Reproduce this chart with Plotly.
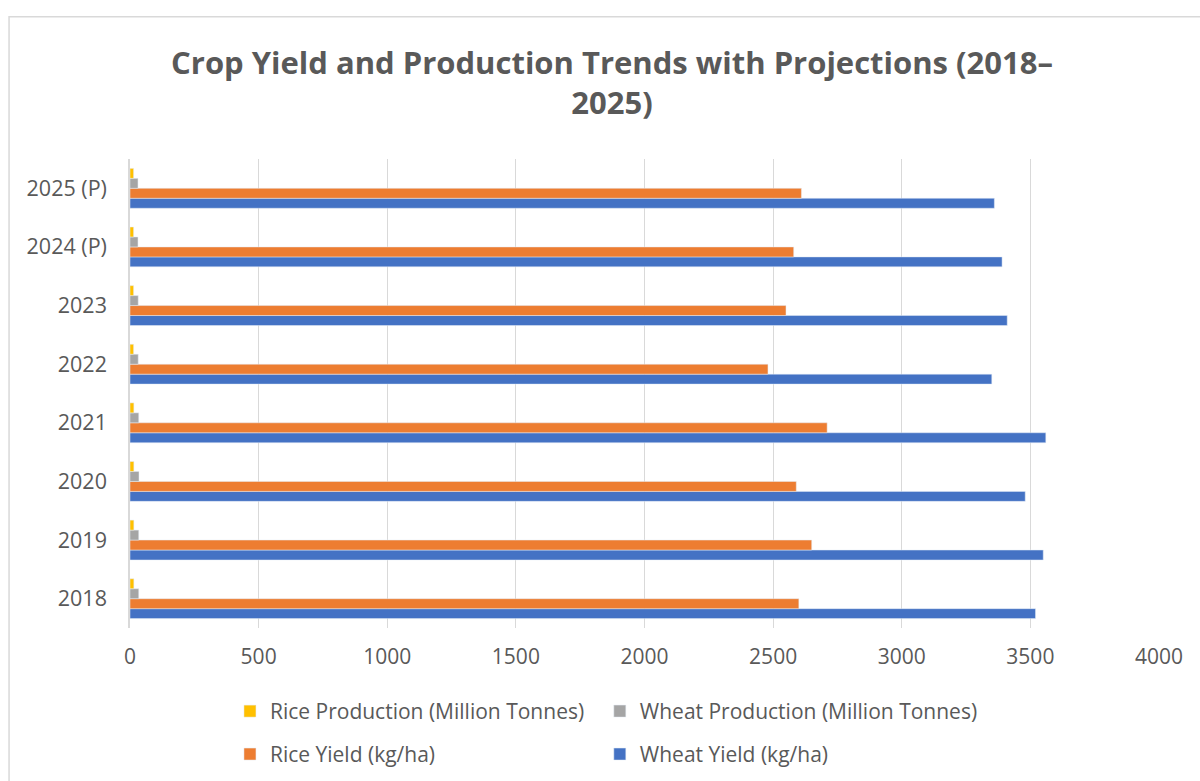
import plotly.graph_objects as go

years = ["2018", "2019", "2020", "2021", "2022", "2023", "2024 (P)", "2025 (P)"]
wheat_yield = [3520, 3550, 3480, 3560, 3350, 3410, 3390, 3360]
rice_yield = [2600, 2650, 2590, 2710, 2480, 2550, 2580, 2610]
wheat_prod = [34, 34, 35, 34, 32, 32, 31, 31]
rice_prod = [15, 15, 15, 15, 14, 14, 14, 14]
x_ticks = [0, 500, 1000, 1500, 2000, 2500, 3000, 3500, 4000]

FONT = "Open Sans"
TXT = "#595959"

fig = go.Figure()
fig.add_trace(go.Bar(y=years, x=wheat_yield, orientation="h", name="Wheat Yield (kg/ha)",
                     marker=dict(color="#4472C4"), legend="legend4", showlegend=True))
fig.add_trace(go.Bar(y=years, x=rice_yield, orientation="h", name="Rice Yield (kg/ha)",
                     marker=dict(color="#ED7D31"), legend="legend3", showlegend=True))
fig.add_trace(go.Bar(y=years, x=wheat_prod, orientation="h", name="Wheat Production (Million Tonnes)",
                     marker=dict(color="#A5A5A5"), legend="legend2", showlegend=True))
fig.add_trace(go.Bar(y=years, x=rice_prod, orientation="h", name="Rice Production (Million Tonnes)",
                     marker=dict(color="#FFC000"), legend="legend", showlegend=True))

H = 781
L, R = 130, 1200 - 1159.4
T, B = 158.6, H - 628.4
pw = 1200 - L - R
ph = H - T - B

def px_x(p):
    return (p - L) / pw

def px_y(p):
    return (H - B - p) / ph

legend_common = dict(
    orientation="h", xanchor="left", yanchor="middle", visible=True,
    font=dict(family=FONT, size=21, color=TXT),
    bgcolor="rgba(0,0,0,0)", itemclick=False, itemdoubleclick=False,
)

fig.update_layout(
    width=1200, height=H,
    margin=dict(l=L, r=R, t=T, b=B, autoexpand=False),
    paper_bgcolor="white", plot_bgcolor="white",
    showlegend=True,
    barmode="group", bargap=0.32, bargroupgap=0,
    title=dict(text="<b>Crop Yield and Production Trends with Projections (2018–<br>2025)</b>",
               x=0.51, xref="container", xanchor="center",
               y=1 - 74 / H, yref="container", yanchor="middle",
               font=dict(family=FONT, size=31, color=TXT)),
    xaxis=dict(range=[0, 4000], tickvals=x_ticks, showgrid=True, gridcolor="#d9d9d9", gridwidth=1,
               zeroline=False, showline=False, ticks="", ticklabelstandoff=14,
               tickfont=dict(family=FONT, size=21, color=TXT)),
    yaxis=dict(showgrid=False, showline=True, linecolor="#d9d9d9", linewidth=1.5, ticks="",
               ticklabelstandoff=17, tickfont=dict(family=FONT, size=21.5, color=TXT)),
    legend=dict(x=px_x(230), y=px_y(712), **legend_common),
    legend2=dict(x=px_x(600), y=px_y(712), **legend_common),
    legend3=dict(x=px_x(230), y=px_y(755), **legend_common),
    legend4=dict(x=px_x(600), y=px_y(755), **legend_common),
    shapes=[dict(type="rect", xref="paper", yref="paper",
                 x0=px_x(9), x1=px_x(1215), y0=px_y(16), y1=px_y(800),
                 line=dict(color="#d9d9d9", width=1.5), layer="below")],
)

fig.write_html("out.html")
